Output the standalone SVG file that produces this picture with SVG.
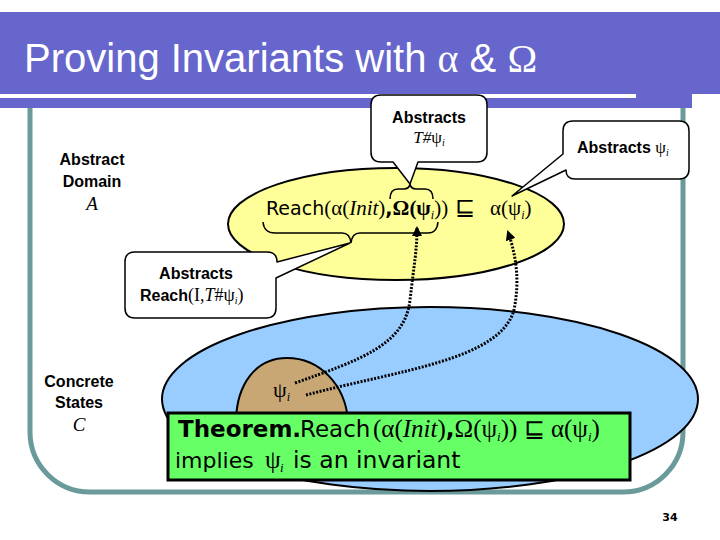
<svg xmlns="http://www.w3.org/2000/svg" width="720" height="540" viewBox="0 0 720 540">
<defs>
<style>
.sans{font-family:"Liberation Sans",Arial,sans-serif}
.ver{font-family:"DejaVu Sans",Verdana,sans-serif}
.ser{font-family:"Liberation Serif","Times New Roman",serif}
.it{font-style:italic}
.lbl{font-family:"Liberation Sans",Arial,sans-serif;font-weight:bold;font-size:16px;text-anchor:middle}
.call{fill:#fff;stroke:#000;stroke-width:1.5;stroke-linejoin:round}
.brace{fill:none;stroke:#000;stroke-width:1.5}
.dot{fill:none;stroke:#000;stroke-width:3;stroke-dasharray:2 1.5}
</style>
<marker id="ah" viewBox="0 0 10 10" refX="8" refY="5" markerWidth="10" markerHeight="10" markerUnits="userSpaceOnUse" orient="auto">
<path d="M0,0 L10,5 L0,10 Z" fill="#000"/>
</marker>
</defs>
<rect width="720" height="540" fill="#fff"/>
<g id="header">
<rect x="0" y="12" width="720" height="82" fill="#6666CC"/>
<rect x="0" y="94" width="692" height="14" fill="#6666CC"/>
<rect x="0" y="94" width="636" height="4" fill="#fff"/>
<text x="24" y="72" class="sans" font-size="40" fill="#fff">Proving Invariants with <tspan class="ser">α</tspan> &amp; <tspan class="ser">Ω</tspan></text>
</g>
<g id="frame">
<path d="M30,108 V432 A60,60 0 0 0 90,492 H623 A60,60 0 0 0 683,432 V108" fill="none" stroke="#6A9A9A" stroke-width="5"/>
</g>
<g id="abstract-domain">
<ellipse cx="396" cy="224" rx="168" ry="56" fill="#FFFF99" stroke="#000" stroke-width="2"/>
<text y="215" font-size="19">
<tspan x="266" class="ver">Reach</tspan><tspan class="ser" font-size="21">(α(</tspan><tspan class="ser it" font-size="21">Init</tspan><tspan class="ser" font-size="21">)</tspan><tspan class="ver" font-weight="bold">,</tspan><tspan class="ser" font-weight="bold" font-size="21">Ω(ψ</tspan><tspan class="ser it" font-size="12" dy="4">i</tspan><tspan class="ser" font-size="21" dy="-4">))</tspan><tspan x="455" class="ser" font-size="24">⊑</tspan><tspan x="490" class="ser" font-size="21">α(ψ</tspan><tspan class="ser it" font-size="12" dy="4">i</tspan><tspan class="ser" font-size="21" dy="-4">)</tspan>
</text>
</g>
<g id="concrete-states">
<ellipse cx="430" cy="399" rx="268" ry="92" fill="#99CCFF" stroke="#000" stroke-width="2"/>
</g>
<g id="psi-region">
<path d="M236,420 C237,385 255,358 287,358 C320,358 345,385 348,420 Z" fill="#C8A775" stroke="#000" stroke-width="2"/>
<text x="273" y="397" class="ser" font-size="22">ψ<tspan class="it" font-size="12" dy="4">i</tspan></text>
</g>
<g id="theorem">
<rect x="168" y="413" width="462" height="67" fill="#66FF66" stroke="#000" stroke-width="3"/>
<text y="437" font-size="23">
<tspan x="178" class="ver" font-weight="bold">Theorem.</tspan><tspan x="300" class="ver">Reach</tspan><tspan x="373" class="ser" font-size="25">(α(</tspan><tspan class="ser it" font-size="25">Init</tspan><tspan class="ser" font-size="25">)</tspan><tspan class="ver" font-weight="bold">,</tspan><tspan class="ser" font-size="25">Ω(ψ</tspan><tspan class="ser it" font-size="13" dy="4">i</tspan><tspan class="ser" font-size="25" dy="-4">)) ⊑ α(ψ</tspan><tspan class="ser it" font-size="13" dy="4">i</tspan><tspan class="ser" font-size="25" dy="-4">)</tspan>
</text>
<text y="468" font-size="22"><tspan x="175" class="ver">implies</tspan><tspan x="265" class="ser" font-size="25">ψ</tspan><tspan x="280" class="ser it" font-size="13" dy="4">i</tspan><tspan x="293" class="ver" font-size="23.5" dy="-4">is an invariant</tspan></text>
</g>
<g id="callout-T">
<path class="call" d="M381,95 H477 Q487,95 487,105 V152 Q487,162 477,162 H418 L410,184 L393,162 H381 Q371,162 371,152 V105 Q371,95 381,95 Z"/>
<text x="429" y="123" class="lbl">Abstracts</text>
<text x="429" y="143" class="ser it" font-size="17" text-anchor="middle">T#<tspan font-style="normal">ψ</tspan><tspan font-size="10" dy="3">i</tspan></text>
</g>
<g id="callout-psi">
<path class="call" d="M573,121 H679 Q689,121 689,131 V169 Q689,179 679,179 H575 Q566,179 566,170 L512,196 L563,154 V131 Q563,121 573,121 Z"/>
<text x="577" y="153" class="sans" font-weight="bold" font-size="16">Abstracts <tspan class="ser" font-weight="normal" font-size="17">ψ</tspan><tspan class="ser it" font-weight="normal" font-size="10" dy="3">i</tspan></text>
</g>
<g id="callout-reach">
<path class="call" d="M135,252 H267 Q277,252 277,262 L350,243 L276,278 V308 Q276,318 266,318 H135 Q125,318 125,308 V262 Q125,252 135,252 Z"/>
<text x="196" y="279" class="lbl">Abstracts</text>
<text x="140" y="301" class="sans" font-weight="bold" font-size="16">Reach<tspan class="ser" font-weight="normal" font-size="18">(I,</tspan><tspan class="ser it" font-weight="normal" font-size="18">T</tspan><tspan class="ser" font-weight="normal" font-size="18">#ψ</tspan><tspan class="ser it" font-weight="normal" font-size="10" dy="3">i</tspan><tspan class="ser" font-weight="normal" font-size="18" dy="-3">)</tspan></text>
</g>
<g id="side-labels">
<text class="lbl" x="92" y="165">Abstract</text>
<text class="lbl" x="92" y="187">Domain</text>
<text class="ser it" x="92" y="210" font-size="19" text-anchor="middle">A</text>
<text class="lbl" x="79" y="387">Concrete</text>
<text class="lbl" x="79" y="408">States</text>
<text class="ser it" x="79" y="431" font-size="19" text-anchor="middle">C</text>
<text class="ver" x="670" y="521" font-size="11" font-weight="bold" text-anchor="middle">34</text>
</g>
<g id="connectors">
<path class="brace" d="M263,222 Q264,233 275,233 H342 Q350,233 351,243 Q352,233 360,233 H428 Q437,233 438,222"/>
<path class="brace" d="M390,199 Q390,189 398,189 H404 Q409,189 410,184 Q411,189 416,189 H425 Q433,189 433,199"/>
<path class="dot" marker-end="url(#ah)" d="M295,383 C360,360 405,345 410,300 C414,265 417,250 417,228"/>
<path class="dot" marker-end="url(#ah)" d="M306,395 C400,370 500,360 514,310 C520,280 516,255 508,232"/>
</g>
</svg>
